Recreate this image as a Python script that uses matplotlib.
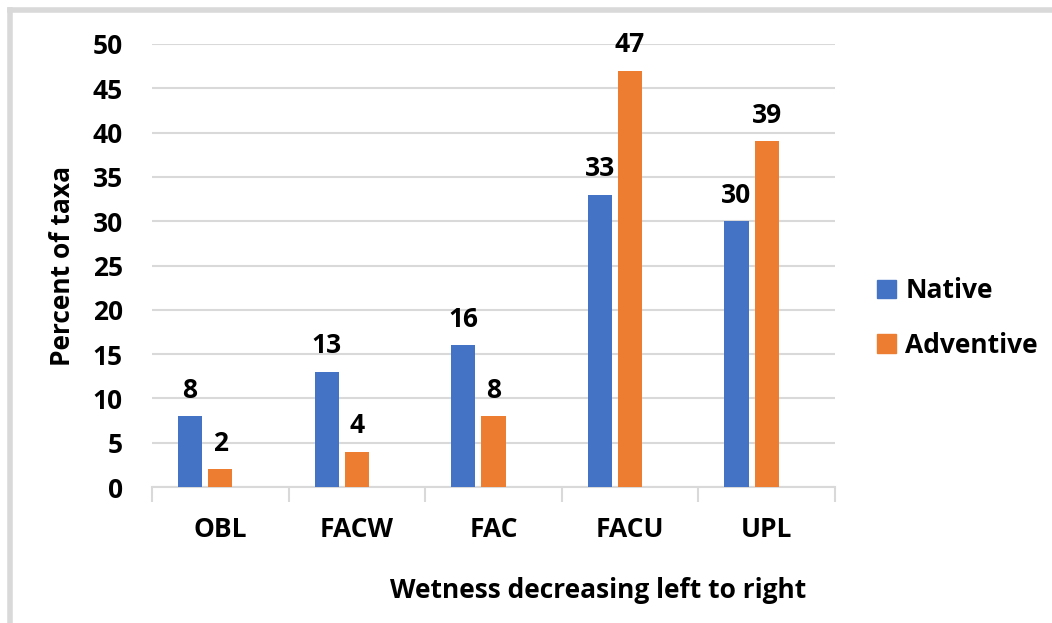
import numpy as np
import matplotlib.pyplot as plt
from matplotlib.lines import Line2D
from matplotlib.patches import Patch

categories = ["OBL", "FACW", "FAC", "FACU", "UPL"]
native = [8, 13, 16, 33, 30]
adventive = [2, 4, 8, 47, 39]
yticks = [0, 5, 10, 15, 20, 25, 30, 35, 40, 45, 50]

blue = "#4472C4"
orange = "#ED7D31"
grid_gray = "#D9D9D9"

plt.rcParams["font.family"] = ["Open Sans", "DejaVu Sans"]
plt.rcParams["font.weight"] = "bold"
fs = 19

fig = plt.figure(figsize=(10.52, 6.23), dpi=100)
ax = fig.add_axes([152 / 1052, 1 - 487 / 623, (835 - 152) / 1052, (487 - 44) / 623])

x = np.arange(len(categories))
w = 0.176
b1 = ax.bar(x - 0.221, native, width=w, color=blue, zorder=3)
b2 = ax.bar(x, adventive, width=w, color=orange, zorder=3)

for bars, vals in [(b1, native), (b2, adventive)]:
    for rect, v in zip(bars, vals):
        ax.annotate(str(v), (rect.get_x() + rect.get_width() / 2, v),
                    xytext=(0, 9), textcoords="offset points",
                    ha="center", va="bottom", fontsize=fs, fontweight="bold")

ax.set_xlim(-0.5, len(categories) - 0.5)
ax.set_ylim(0, 50)
ax.set_yticks(yticks)
ax.set_yticklabels([str(t) for t in yticks], fontsize=fs, fontweight="bold")
ax.tick_params(axis="y", length=0, pad=21)
ax.grid(axis="y", color=grid_gray, linewidth=1.5, zorder=0)
ax.set_axisbelow(True)

ax.set_xticks(x)
ax.set_xticklabels(categories, fontsize=fs, fontweight="bold")
ax.tick_params(axis="x", length=0, pad=21)
ax.set_xticks(np.arange(len(categories) + 1) - 0.5, minor=True)
ax.tick_params(axis="x", which="minor", length=11, width=1.5, color=grid_gray)

for s in ["top", "right", "left"]:
    ax.spines[s].set_visible(False)
ax.spines["bottom"].set_color(grid_gray)
ax.spines["bottom"].set_linewidth(1.5)

ax.set_ylabel("Percent of taxa", fontsize=fs, fontweight="bold", labelpad=12)
fig.text(598 / 1052, 1 - 590 / 623, "Wetness decreasing left to right",
         ha="center", va="center", fontsize=fs, fontweight="bold")

handles = [Patch(color=blue, label="Native"), Patch(color=orange, label="Adventive")]
fig.legend(handles=handles, loc="center left", bbox_to_anchor=(877 / 1052, 1 - 318 / 623),
           frameon=False, prop={"weight": "bold", "size": fs}, borderaxespad=0, borderpad=0,
           handlelength=0.72, handleheight=0.72, handletextpad=0.35, labelspacing=1.05)

# outer frame (only top and left edges visible in crop)
fig.add_artist(Line2D([10 / 1052, 10 / 1052], [0, 1 - 10 / 623], transform=fig.transFigure,
                      color=grid_gray, linewidth=4))
fig.add_artist(Line2D([10 / 1052, 1], [1 - 10 / 623, 1 - 10 / 623], transform=fig.transFigure,
                      color=grid_gray, linewidth=4))

fig.savefig("out.png", dpi=100)
